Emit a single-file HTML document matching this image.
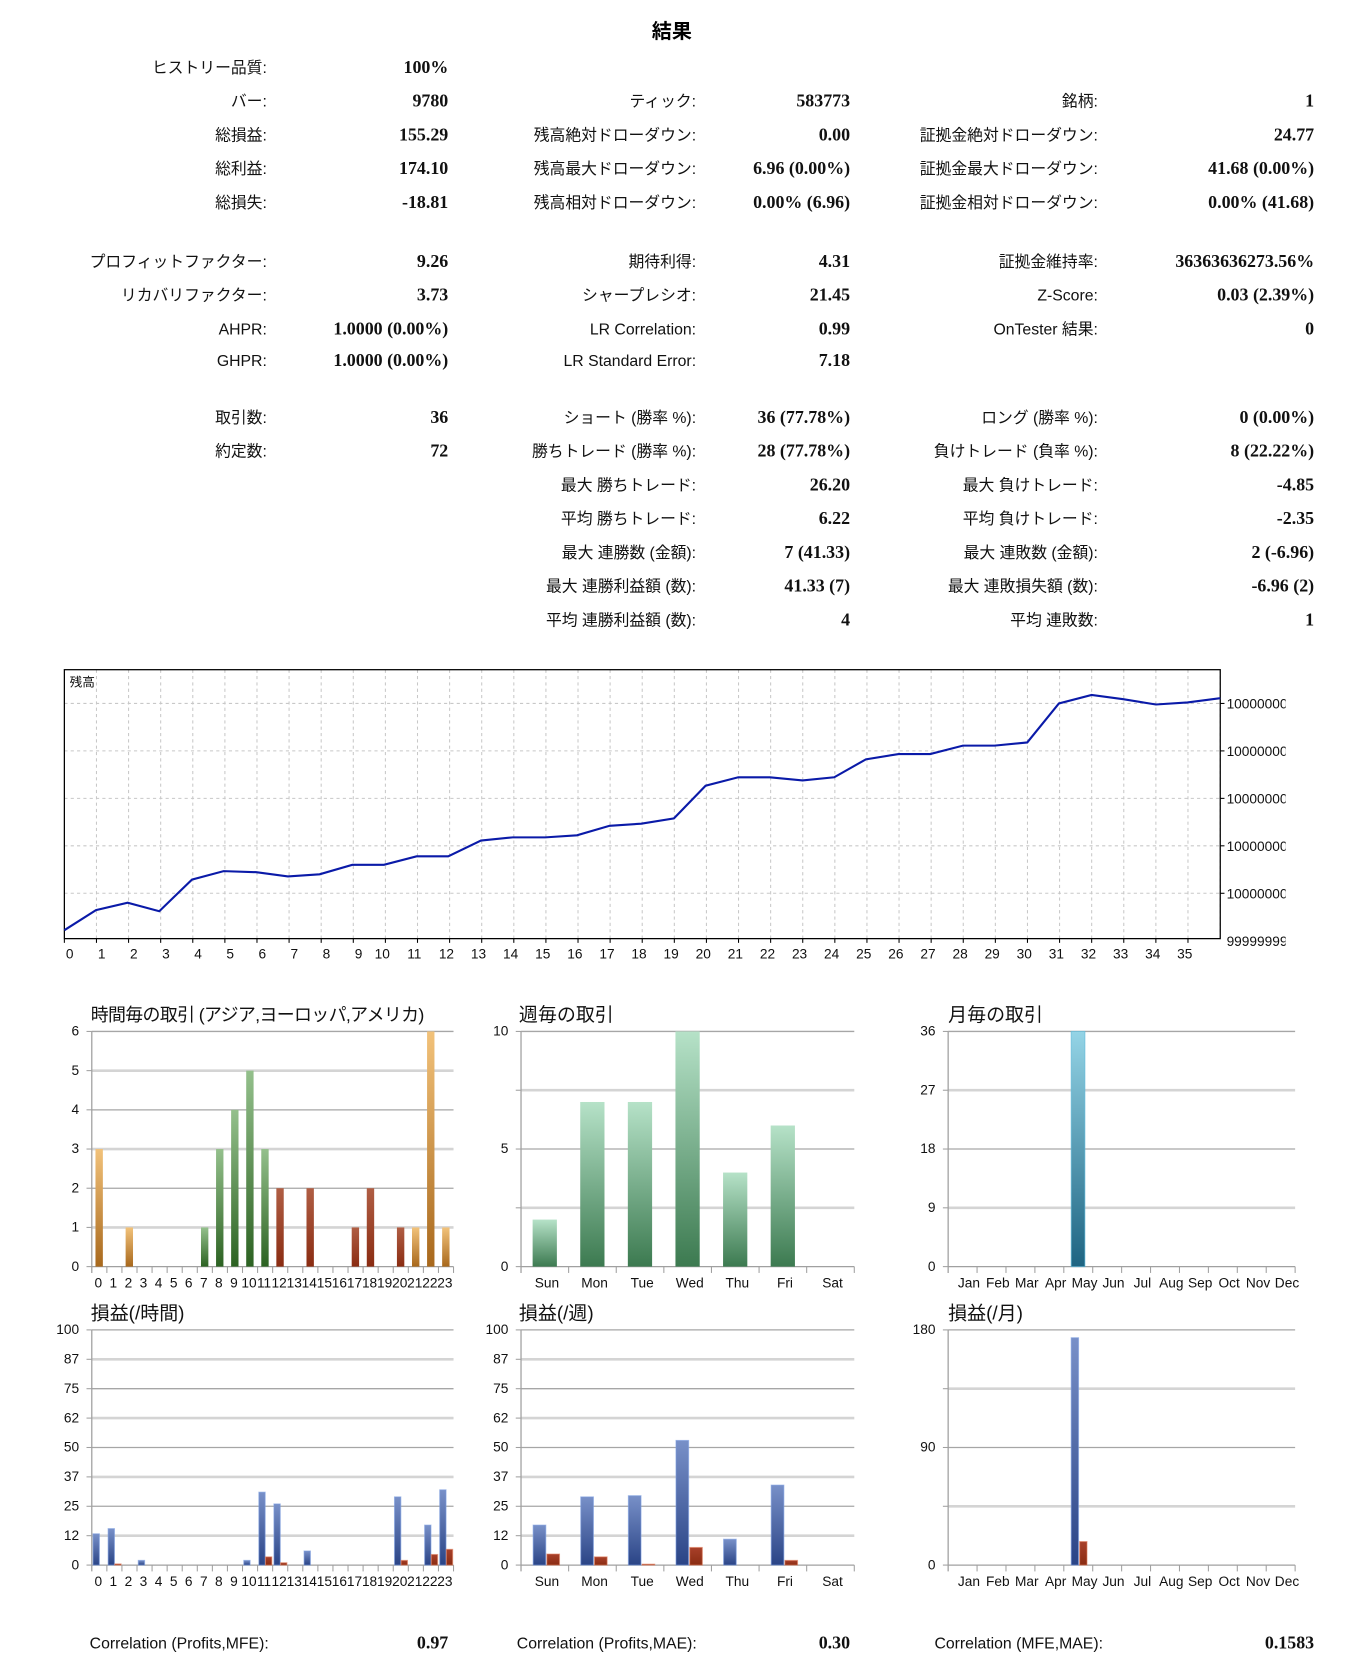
<!DOCTYPE html>
<html><head><meta charset="utf-8">
<style>
html,body{margin:0;padding:0;background:#fff;}
svg{display:block;}
.l{font-family:"Liberation Sans","Noto Sans CJK JP",sans-serif;font-size:15px;fill:#111;text-anchor:end;}
.v{font-family:"Liberation Serif","Noto Serif CJK SC",serif;font-size:17px;font-weight:bold;fill:#111;text-anchor:end;}
.a{font-family:"Liberation Sans","Noto Sans CJK JP",sans-serif;font-size:13px;fill:#111;}
.t{font-family:"Liberation Sans","Noto Sans CJK JP",sans-serif;font-size:18px;fill:#111;}
</style></head><body>
<svg id="s" width="1350" height="1660" viewBox="0 0 1280 1574" xmlns="http://www.w3.org/2000/svg">
<defs>
<linearGradient id="gO" x1="0" y1="0" x2="0" y2="1"><stop offset="0" stop-color="#f2c27a"/><stop offset="1" stop-color="#a8681c"/></linearGradient>
<linearGradient id="gG" x1="0" y1="0" x2="0" y2="1"><stop offset="0" stop-color="#94c08c"/><stop offset="1" stop-color="#2c6222"/></linearGradient>
<linearGradient id="gR" x1="0" y1="0" x2="0" y2="1"><stop offset="0" stop-color="#b05e44"/><stop offset="1" stop-color="#8a2c12"/></linearGradient>
<linearGradient id="gW" x1="0" y1="0" x2="0" y2="1"><stop offset="0" stop-color="#b6e2c8"/><stop offset="1" stop-color="#3c7a50"/></linearGradient>
<linearGradient id="gC" x1="0" y1="0" x2="0" y2="1"><stop offset="0" stop-color="#94d4e6"/><stop offset="1" stop-color="#1e6482"/></linearGradient>
<linearGradient id="gB" x1="0" y1="0" x2="0" y2="1"><stop offset="0" stop-color="#7890c8"/><stop offset="1" stop-color="#2a4486"/></linearGradient>
<linearGradient id="gD" x1="0" y1="0" x2="0" y2="1"><stop offset="0" stop-color="#a8402a"/><stop offset="1" stop-color="#8a2c12"/></linearGradient>
<clipPath id="cl"><rect x="1157" y="600" width="62" height="320"/></clipPath>
</defs>
<text x="637" y="36" style="font-family:'Liberation Sans','Noto Sans CJK JP',sans-serif;font-size:19px;font-weight:bold;text-anchor:middle">結果</text>
<g id="tbl"></g>
<g id="eq"></g>
<g id="bars"></g>
</svg>
<script>
var NS="http://www.w3.org/2000/svg";
function el(p,tag,at,txt){var e=document.createElementNS(NS,tag);for(var k in at)e.setAttribute(k,at[k]);if(txt!=null)e.textContent=txt;p.appendChild(e);return e;}
var T=document.getElementById('tbl');
var rows=[
[63,"ヒストリー品質:","100%",null,null,null,null],
[95,"バー:","9780","ティック:","583773","銘柄:","1"],
[127,"総損益:","155.29","残高絶対ドローダウン:","0.00","証拠金絶対ドローダウン:","24.77"],
[159,"総利益:","174.10","残高最大ドローダウン:","6.96 (0.00%)","証拠金最大ドローダウン:","41.68 (0.00%)"],
[191,"総損失:","-18.81","残高相対ドローダウン:","0.00% (6.96)","証拠金相対ドローダウン:","0.00% (41.68)"],
[247,"プロフィットファクター:","9.26","期待利得:","4.31","証拠金維持率:","36363636273.56%"],
[279,"リカバリファクター:","3.73","シャープレシオ:","21.45","Z-Score:","0.03 (2.39%)"],
[311,"AHPR:","1.0000 (0.00%)","LR Correlation:","0.99","OnTester 結果:","0"],
[341,"GHPR:","1.0000 (0.00%)","LR Standard Error:","7.18",null,null],
[395,"取引数:","36","ショート (勝率 %):","36 (77.78%)","ロング (勝率 %):","0 (0.00%)"],
[427,"約定数:","72","勝ちトレード (勝率 %):","28 (77.78%)","負けトレード (負率 %):","8 (22.22%)"],
[459,null,null,"最大 勝ちトレード:","26.20","最大 負けトレード:","-4.85"],
[491,null,null,"平均 勝ちトレード:","6.22","平均 負けトレード:","-2.35"],
[523,null,null,"最大 連勝数 (金額):","7 (41.33)","最大 連敗数 (金額):","2 (-6.96)"],
[555,null,null,"最大 連勝利益額 (数):","41.33 (7)","最大 連敗損失額 (数):","-6.96 (2)"],
[587,null,null,"平均 連勝利益額 (数):","4","平均 連敗数:","1"]];
var cx=[253,425,660,806,1041,1246];
rows.forEach(function(r){for(var i=0;i<6;i++){if(r[i+1]!=null)el(T,'text',{x:cx[i],y:r[0]+6,'class':i%2?'v':'l'},r[i+1]);}});
var C=[[85,"Correlation (Profits,MFE):",425,"0.97"],[490,"Correlation (Profits,MAE):",806,"0.30"],[886,"Correlation (MFE,MAE):",1246,"0.1583"]];
C.forEach(function(c){el(T,'text',{x:c[0],y:1563,'class':'l',style:'text-anchor:start'},c[1]);el(T,'text',{x:c[2],y:1563,'class':'v'},c[3]);});
var E=document.getElementById('eq');
var L=61,R=1157,TP=635,B=890,dx=30.44;
for(var i=1;i<=36;i++){var x=L+dx*i;if(x<R)el(E,'line',{x1:x,y1:TP,x2:x,y2:B,stroke:'#c8c8c8','stroke-dasharray':'3,3','stroke-width':1});}
[667,712,757,802,847].forEach(function(y){el(E,'line',{x1:L,y1:y,x2:R,y2:y,stroke:'#c8c8c8','stroke-dasharray':'3,3','stroke-width':1});});
el(E,'rect',{x:L,y:TP,width:R-L,height:B-TP,fill:'none',stroke:'#000','stroke-width':1.2});
for(var i=0;i<=35;i++){var x=L+dx*i;el(E,'line',{x1:x,y1:B,x2:x,y2:B+4,stroke:'#000'});el(E,'text',{x:x+(i<10?5:-3),y:909,'class':'a','text-anchor':'middle'},String(i));}
var CL=el(E,'g',{'clip-path':'url(#cl)'});
[667,712,757,802,847].forEach(function(y){el(E,'line',{x1:R,y1:y,x2:R+4,y2:y,stroke:'#000'});el(CL,'text',{x:1163,y:y+5,'class':'a'},"10000000");});
el(CL,'text',{x:1163,y:897,'class':'a'},"99999999");
el(E,'text',{x:66,y:651,'class':'a',style:'font-size:12px'},"残高");
var P=[[61,882],[91,863],[121,856],[151,864],[182,834],[212,826],[243,827],[273,831],[303,829],[334,820],[364,820],[395,812],[425,812],[456,797],[486,794],[517,794],[547,792],[578,783],[608,781],[639,776],[669,745],[700,737],[730,737],[761,740],[791,737],[821,720],[852,715],[882,715],[913,707],[943,707],[974,704],[1004,667],[1035,659],[1065,663],[1096,668],[1126,666],[1157,662]];
el(E,'polyline',{points:P.map(function(p){return p.join(',')}).join(' '),fill:'none',stroke:'#0a1aa8','stroke-width':2});
var G=document.getElementById('bars');
function chart(o){
 var l=o.l,r=o.r,t=o.t,b=o.b,n=o.n,sw=(r-l)/n;
 el(G,'text',{x:o.tx,y:t-10,'class':'t',style:o.ts||''},o.title);
 var k=o.yl.length-1;
 for(var j=0;j<=k;j++){var y=b-(b-t)*j/k;
  if(j>0)el(G,'line',{x1:l,y1:y,x2:r,y2:y,stroke:(k-j)%2==1?'#d4d4d4':'#a6a6a6','stroke-width':(k-j)%2==1?2.5:1.2});
  el(G,'line',{x1:l-5,y1:y,x2:l,y2:y,stroke:'#a0a0a0'});
  el(G,'text',{x:l-12,y:y+4,'class':'a','text-anchor':'end'},o.yl[j]);}
 el(G,'line',{x1:l,y1:t,x2:l,y2:b+6,stroke:'#a0a0a0','stroke-width':1.2});
 el(G,'line',{x1:l,y1:b,x2:r,y2:b,stroke:'#a0a0a0','stroke-width':1.2});
 for(var i=1;i<=n;i++)el(G,'line',{x1:l+sw*i,y1:b,x2:l+sw*i,y2:b+6,stroke:'#a0a0a0'});
 for(var i=0;i<n;i++)el(G,'text',{x:l+sw*(i+0.5)+(o.xo||0),y:b+20,'class':'a','text-anchor':'middle'},o.xl[i]);
 o.series.forEach(function(s){for(var i in s.d){var v=s.d[i];var h=(b-t)*v/o.max;
   var f=typeof s.f=='function'?s.f(+i):s.f;
   el(G,'rect',{x:l+sw*i+s.off,y:b-h,width:s.w,height:h,fill:'url(#'+f+')',stroke:s.st||'none','stroke-width':1,'stroke-opacity':0.6});}});
}
var H=[];for(var i=0;i<24;i++)H.push(String(i));
var W=["Sun","Mon","Tue","Wed","Thu","Fri","Sat"];
var M=["Jan","Feb","Mar","Apr","May","Jun","Jul","Aug","Sep","Oct","Nov","Dec"];
function hc(i){return (i>=7&&i<=11)?'gG':(i>=12&&i<=20)?'gR':'gO';}
var hd={0:3,2:1,7:1,8:3,9:4,10:5,11:3,12:2,14:2,17:1,18:2,20:1,21:1,22:6,23:1};
var top1=978,bot1=1201,top2=1261,bot2=1484;
chart({l:87,r:430,t:top1,b:bot1,n:24,title:"時間毎の取引 (アジア,ヨーロッパ,アメリカ)",ts:"font-size:17px;letter-spacing:-0.6px",tx:86,yl:["0","1","2","3","4","5","6"],xl:H,max:6,xo:-1,
 series:[{d:hd,off:3.5,w:7,f:hc}]});
chart({l:494,r:810,t:top1,b:bot1,n:7,title:"週毎の取引",tx:492,yl:["0","","5","","10"],xl:W,max:10,xo:2,
 series:[{d:{0:2,1:7,2:7,3:10,4:4,5:6},off:11,w:23,f:'gW'}]});
chart({l:899,r:1228,t:top1,b:bot1,n:12,title:"月毎の取引",tx:899,yl:["0","9","18","27","36"],xl:M,max:36,xo:6,
 series:[{d:{4:36},off:7,w:13,f:'gC',st:'#5ab8d8'}]});
var yl2=["0","12","25","37","50","62","75","87","100"];
chart({l:87,r:430,t:top2,b:bot2,n:24,title:"損益(/時間)",tx:86,yl:yl2,xl:H,max:100,xo:-1,
 series:[{d:{0:13.3,1:15.5,3:2,10:2,11:31,12:26,14:6,20:29,22:17,23:32},off:1.2,w:6,f:'gB',st:'#7c9ce0'},
 {d:{1:0.5,11:3.5,12:1,20:2,22:4.5,23:6.7},off:7.5,w:6,f:'gD',st:'#e08060'}]});
chart({l:494,r:810,t:top2,b:bot2,n:7,title:"損益(/週)",tx:492,yl:yl2,xl:W,max:100,xo:2,
 series:[{d:{0:17,1:29,2:29.5,3:53,4:11,5:34},off:11.5,w:12,f:'gB',st:'#7c9ce0'},
 {d:{0:4.7,1:3.5,2:0.4,3:7.5,5:2},off:24.5,w:12,f:'gD',st:'#e08060'}]});
chart({l:899,r:1228,t:top2,b:bot2,n:12,title:"損益(/月)",tx:899,yl:["0","","90","","180"],xl:M,max:180,xo:6,
 series:[{d:{4:174},off:7,w:7,f:'gB',st:'#7c9ce0'},{d:{4:18},off:15,w:7,f:'gD',st:'#e08060'}]});
</script>
</body></html>
